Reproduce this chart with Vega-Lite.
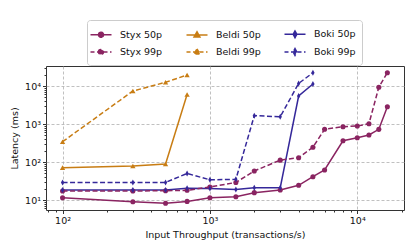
{
  "$schema": "https://vega.github.io/schema/vega-lite/v6.json",
  "autosize": {"type": "none"},
  "width": 358,
  "height": 144,
  "padding": {"left": 46, "top": 66, "right": 11, "bottom": 39},
  "config": {
    "font": "DejaVu Sans",
    "view": {"stroke": "#333333", "strokeWidth": 1},
    "axis": {"labelFont": "DejaVu Sans", "titleFont": "DejaVu Sans", "labelColor": "#111", "titleColor": "#111", "titleFontWeight": "normal", "labelFontSize": 9.5, "titleFontSize": 9.5, "domain": false, "tickColor": "#333"},
    "legend": {"labelFont": "DejaVu Sans", "labelFontSize": 9.5, "labelColor": "#111"}
  },
  "datasets": {
    "pts": [
      {"series": "Styx 50p", "system": "Styx", "pct": "50p", "x": 100, "y": 11.5},
      {"series": "Styx 50p", "system": "Styx", "pct": "50p", "x": 300, "y": 9.0},
      {"series": "Styx 50p", "system": "Styx", "pct": "50p", "x": 500, "y": 8.2},
      {"series": "Styx 50p", "system": "Styx", "pct": "50p", "x": 700, "y": 9.2},
      {"series": "Styx 50p", "system": "Styx", "pct": "50p", "x": 1000, "y": 11.5},
      {"series": "Styx 50p", "system": "Styx", "pct": "50p", "x": 1500, "y": 12.2},
      {"series": "Styx 50p", "system": "Styx", "pct": "50p", "x": 2000, "y": 15.6},
      {"series": "Styx 50p", "system": "Styx", "pct": "50p", "x": 3000, "y": 18.3},
      {"series": "Styx 50p", "system": "Styx", "pct": "50p", "x": 4000, "y": 24.4},
      {"series": "Styx 50p", "system": "Styx", "pct": "50p", "x": 5000, "y": 41},
      {"series": "Styx 50p", "system": "Styx", "pct": "50p", "x": 6000, "y": 61.6},
      {"series": "Styx 50p", "system": "Styx", "pct": "50p", "x": 8000, "y": 363},
      {"series": "Styx 50p", "system": "Styx", "pct": "50p", "x": 10000, "y": 436},
      {"series": "Styx 50p", "system": "Styx", "pct": "50p", "x": 12000, "y": 515},
      {"series": "Styx 50p", "system": "Styx", "pct": "50p", "x": 14000, "y": 724},
      {"series": "Styx 50p", "system": "Styx", "pct": "50p", "x": 16000, "y": 2850},
      {"series": "Styx 99p", "system": "Styx", "pct": "99p", "x": 100, "y": 17.3},
      {"series": "Styx 99p", "system": "Styx", "pct": "99p", "x": 300, "y": 17.3},
      {"series": "Styx 99p", "system": "Styx", "pct": "99p", "x": 500, "y": 17.5},
      {"series": "Styx 99p", "system": "Styx", "pct": "99p", "x": 700, "y": 18},
      {"series": "Styx 99p", "system": "Styx", "pct": "99p", "x": 1000, "y": 22},
      {"series": "Styx 99p", "system": "Styx", "pct": "99p", "x": 1500, "y": 29},
      {"series": "Styx 99p", "system": "Styx", "pct": "99p", "x": 2000, "y": 58},
      {"series": "Styx 99p", "system": "Styx", "pct": "99p", "x": 3000, "y": 112},
      {"series": "Styx 99p", "system": "Styx", "pct": "99p", "x": 4000, "y": 130},
      {"series": "Styx 99p", "system": "Styx", "pct": "99p", "x": 5000, "y": 244},
      {"series": "Styx 99p", "system": "Styx", "pct": "99p", "x": 6000, "y": 725},
      {"series": "Styx 99p", "system": "Styx", "pct": "99p", "x": 8000, "y": 850},
      {"series": "Styx 99p", "system": "Styx", "pct": "99p", "x": 10000, "y": 885},
      {"series": "Styx 99p", "system": "Styx", "pct": "99p", "x": 12000, "y": 1020},
      {"series": "Styx 99p", "system": "Styx", "pct": "99p", "x": 14000, "y": 9250},
      {"series": "Styx 99p", "system": "Styx", "pct": "99p", "x": 16000, "y": 22400},
      {"series": "Beldi 50p", "system": "Beldi", "pct": "50p", "x": 100, "y": 71},
      {"series": "Beldi 50p", "system": "Beldi", "pct": "50p", "x": 300, "y": 78.5},
      {"series": "Beldi 50p", "system": "Beldi", "pct": "50p", "x": 500, "y": 89},
      {"series": "Beldi 50p", "system": "Beldi", "pct": "50p", "x": 700, "y": 6000},
      {"series": "Beldi 99p", "system": "Beldi", "pct": "99p", "x": 100, "y": 342},
      {"series": "Beldi 99p", "system": "Beldi", "pct": "99p", "x": 300, "y": 7380},
      {"series": "Beldi 99p", "system": "Beldi", "pct": "99p", "x": 500, "y": 12500},
      {"series": "Beldi 99p", "system": "Beldi", "pct": "99p", "x": 700, "y": 19500},
      {"series": "Boki 50p", "system": "Boki", "pct": "50p", "x": 100, "y": 18.3},
      {"series": "Boki 50p", "system": "Boki", "pct": "50p", "x": 300, "y": 18.3},
      {"series": "Boki 50p", "system": "Boki", "pct": "50p", "x": 500, "y": 18.3},
      {"series": "Boki 50p", "system": "Boki", "pct": "50p", "x": 700, "y": 20.3},
      {"series": "Boki 50p", "system": "Boki", "pct": "50p", "x": 1000, "y": 20},
      {"series": "Boki 50p", "system": "Boki", "pct": "50p", "x": 1500, "y": 19},
      {"series": "Boki 50p", "system": "Boki", "pct": "50p", "x": 2000, "y": 21},
      {"series": "Boki 50p", "system": "Boki", "pct": "50p", "x": 3000, "y": 21},
      {"series": "Boki 50p", "system": "Boki", "pct": "50p", "x": 4000, "y": 5460},
      {"series": "Boki 50p", "system": "Boki", "pct": "50p", "x": 5000, "y": 11300},
      {"series": "Boki 99p", "system": "Boki", "pct": "99p", "x": 100, "y": 29},
      {"series": "Boki 99p", "system": "Boki", "pct": "99p", "x": 300, "y": 29},
      {"series": "Boki 99p", "system": "Boki", "pct": "99p", "x": 500, "y": 29},
      {"series": "Boki 99p", "system": "Boki", "pct": "99p", "x": 700, "y": 50},
      {"series": "Boki 99p", "system": "Boki", "pct": "99p", "x": 1000, "y": 34},
      {"series": "Boki 99p", "system": "Boki", "pct": "99p", "x": 1500, "y": 35},
      {"series": "Boki 99p", "system": "Boki", "pct": "99p", "x": 2000, "y": 1660},
      {"series": "Boki 99p", "system": "Boki", "pct": "99p", "x": 3000, "y": 1550},
      {"series": "Boki 99p", "system": "Boki", "pct": "99p", "x": 4000, "y": 11700},
      {"series": "Boki 99p", "system": "Boki", "pct": "99p", "x": 5000, "y": 22400}
    ]
  },
  "data": {"name": "pts"},
  "encoding": {
    "x": {"field": "x", "type": "quantitative", "scale": {"type": "log", "domain": [77.2, 20750], "nice": false},
      "axis": {"values": [80, 90, 100, 200, 300, 400, 500, 600, 700, 800, 900, 1000, 2000, 3000, 4000, 5000, 6000, 7000, 8000, 9000, 10000, 20000],
        "title": "Input Throughput (transactions/s)",
        "labelExpr": "datum.value == 100 ? '10²' : datum.value == 1000 ? '10³' : datum.value == 10000 ? '10⁴' : ''",
        "labelOverlap": false, "labelFlush": false,
        "grid": true, "gridDash": [3, 2], "gridColor": "#b0b0b0", "gridWidth": 0.8,
        "gridOpacity": {"condition": {"test": "datum.value == 100 || datum.value == 1000 || datum.value == 10000", "value": 1}, "value": 0},
        "tickSize": {"condition": {"test": "datum.value == 100 || datum.value == 1000 || datum.value == 10000", "value": 3.5}, "value": 2},
        "labelPadding": 2, "titlePadding": 4}},
    "y": {"field": "y", "type": "quantitative", "scale": {"type": "log", "domain": [5.46, 33600], "nice": false},
      "axis": {"values": [6, 7, 8, 9, 10, 20, 30, 40, 50, 60, 70, 80, 90, 100, 200, 300, 400, 500, 600, 700, 800, 900, 1000, 2000, 3000, 4000, 5000, 6000, 7000, 8000, 9000, 10000, 20000, 30000],
        "title": "Latency (ms)",
        "labelExpr": "datum.value == 10 ? '10¹' : datum.value == 100 ? '10²' : datum.value == 1000 ? '10³' : datum.value == 10000 ? '10⁴' : ''",
        "labelOverlap": false, "labelFlush": false,
        "grid": true, "gridDash": [3, 2], "gridColor": "#b0b0b0", "gridWidth": 0.8,
        "gridOpacity": {"condition": {"test": "datum.value == 10 || datum.value == 100 || datum.value == 1000 || datum.value == 10000", "value": 1}, "value": 0},
        "tickSize": {"condition": {"test": "datum.value == 10 || datum.value == 100 || datum.value == 1000 || datum.value == 10000", "value": 3.5}, "value": 2},
        "labelPadding": 2, "titlePadding": 5}}
  },
  "layer": [
    {
      "transform": [{"filter": "datum.pct == '50p'"}],
      "mark": {"type": "line", "strokeWidth": 1.5, "clip": true},
      "encoding": {
        "color": {"field": "system", "type": "nominal", "scale": {"domain": ["Styx", "Beldi", "Boki"], "range": ["#8a2461", "#c87d14", "#35289a"]}, "legend": null},
        "detail": {"field": "series"}
      }
    },
    {
      "transform": [{"filter": "datum.pct == '99p'"}],
      "mark": {"type": "line", "strokeWidth": 1.5, "strokeDash": [5, 2.5], "clip": true},
      "encoding": {
        "color": {"field": "system", "type": "nominal", "legend": null},
        "detail": {"field": "series"}
      }
    },
    {
      "transform": [{"filter": "datum.system == 'Styx'"}],
      "mark": {"type": "point", "filled": true, "opacity": 1, "size": 26, "shape": "circle", "clip": true},
      "encoding": {"color": {"field": "system", "type": "nominal", "legend": null}}
    },
    {
      "transform": [{"filter": "datum.system == 'Beldi'"}],
      "mark": {"type": "point", "filled": true, "opacity": 1, "size": 28, "shape": "triangle-up", "clip": true},
      "encoding": {"color": {"field": "system", "type": "nominal", "legend": null}}
    },
    {
      "transform": [{"filter": "datum.system == 'Boki'"}],
      "mark": {"type": "point", "filled": true, "opacity": 1, "size": 30, "shape": "M0,-1.1L0.6,0L0,1.1L-0.6,0Z", "clip": true},
      "encoding": {"color": {"field": "system", "type": "nominal", "legend": null}}
    },
    {
      "transform": [{"filter": "false"}],
      "mark": {"type": "point", "filled": true, "opacity": 1, "size": 196, "strokeWidth": 1.5},
      "encoding": {
        "fill": {"field": "series", "type": "nominal", "scale": {"domain": ["Styx 50p", "Styx 99p", "Beldi 50p", "Beldi 99p", "Boki 50p", "Boki 99p"], "range": ["#8a2461", "#8a2461", "#c87d14", "#c87d14", "#35289a", "#35289a"]},
          "legend": {"title": null, "orient": "none", "legendX": 41, "legendY": -46, "columns": 3, "columnPadding": 20, "rowPadding": 3, "symbolSize": 196, "symbolStrokeWidth": 1.5, "labelLimit": 200, "strokeColor": "#cccccc", "cornerRadius": 3, "padding": 6, "fillColor": "white", "labelOffset": 11}},
        "stroke": {"field": "series", "type": "nominal", "scale": {"domain": ["Styx 50p", "Styx 99p", "Beldi 50p", "Beldi 99p", "Boki 50p", "Boki 99p"], "range": ["#8a2461", "#8a2461", "#c87d14", "#c87d14", "#35289a", "#35289a"]}, "legend": {"title": null}},
        "shape": {"field": "series", "type": "nominal", "scale": {"domain": ["Styx 50p", "Styx 99p", "Beldi 50p", "Beldi 99p", "Boki 50p", "Boki 99p"], "range": [
          "M-1.5,0H1.5M-0.36,0A0.36,0.36 0 1 1 0.36,0A0.36,0.36 0 1 1 -0.36,0Z",
          "M-1.5,0H1.5M-0.36,0A0.36,0.36 0 1 1 0.36,0A0.36,0.36 0 1 1 -0.36,0Z",
          "M-1.5,0H1.5M0,-0.45L0.42,0.3L-0.42,0.3Z",
          "M-1.5,0H1.5M0,-0.45L0.42,0.3L-0.42,0.3Z",
          "M-1.5,0H1.5M0,-0.48L0.26,0L0,0.48L-0.26,0Z",
          "M-1.5,0H1.5M0,-0.48L0.26,0L0,0.48L-0.26,0Z"]}, "legend": {"title": null}},
        "strokeDash": {"field": "series", "type": "nominal", "scale": {"domain": ["Styx 50p", "Styx 99p", "Beldi 50p", "Beldi 99p", "Boki 50p", "Boki 99p"], "range": [[1, 0], [4, 2.5], [1, 0], [4, 2.5], [1, 0], [4, 2.5]]}, "legend": {"title": null}}
      }
    }
  ]
}
